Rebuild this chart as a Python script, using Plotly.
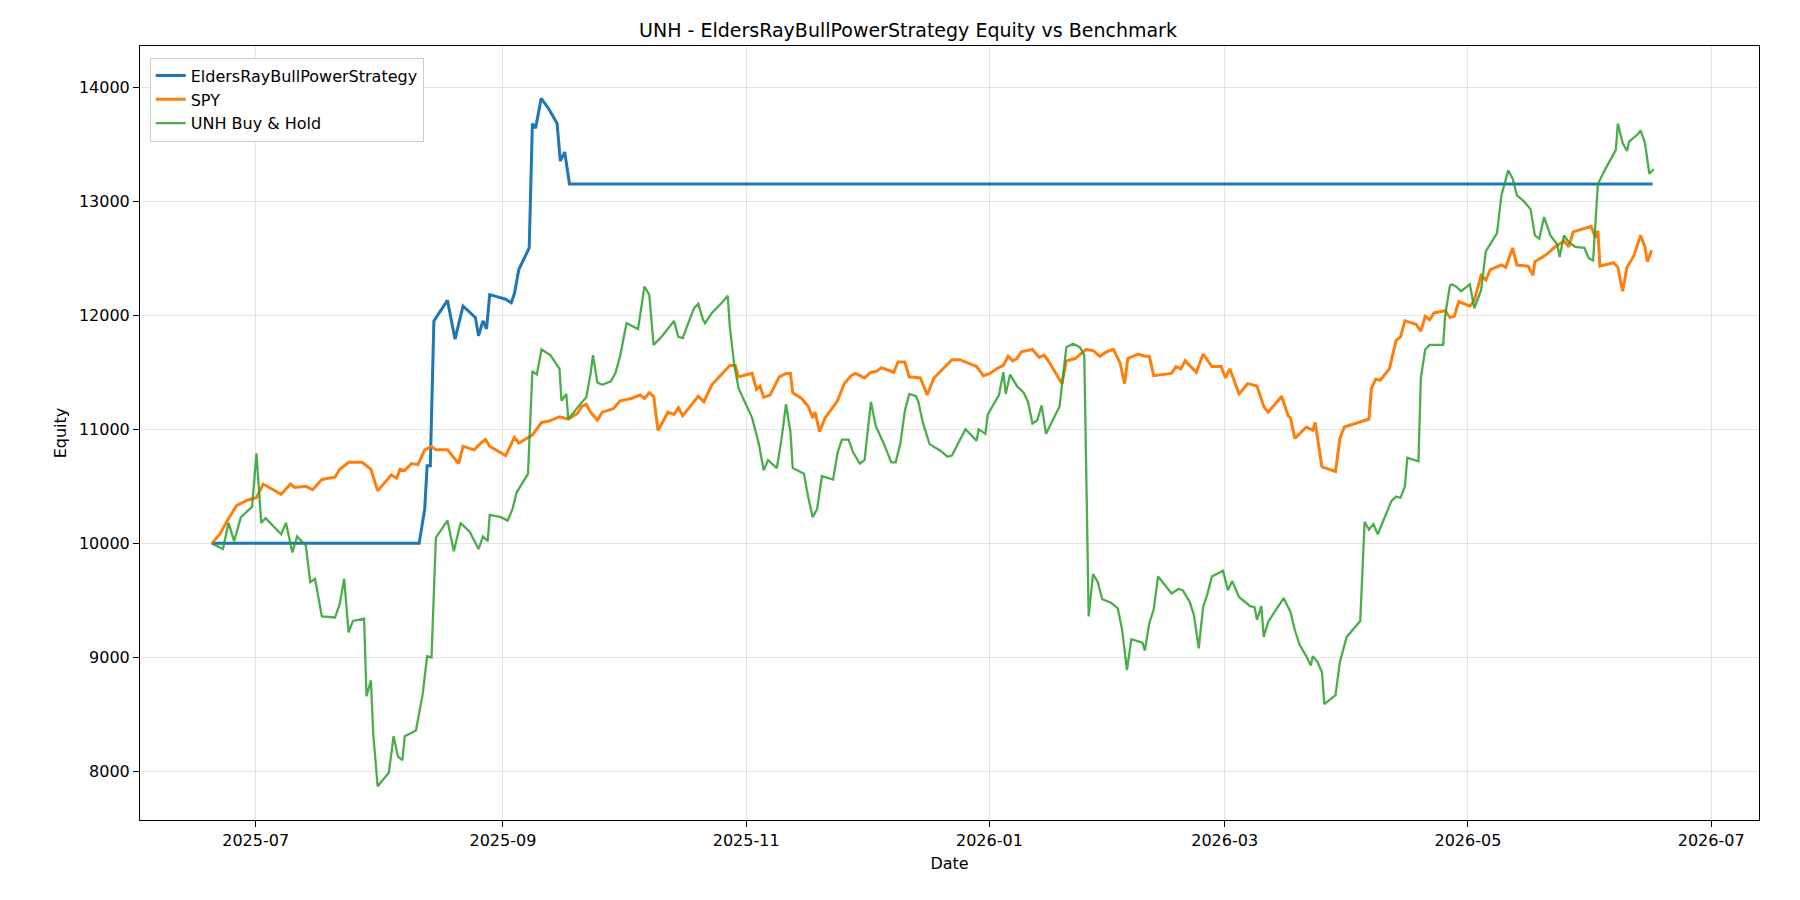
import pandas as pd
import plotly.graph_objects as go

START = "2025-06-20"

strat_days = [0, 52.0, 53.4, 54.0, 54.8, 55.7, 59.1, 61.0, 63.0, 66.1, 66.9, 68.0, 68.9, 69.7, 73.7, 75.1, 75.9, 77.0, 79.6, 80.4, 81.2, 82.6, 84.3, 86.6, 87.4, 88.5, 89.7, 361.3]
strat_vals = [10000, 10000, 10300, 10680, 10680, 11950, 12130, 11790, 12080, 11980, 11820, 11950, 11880, 12180, 12140, 12110, 12190, 12400, 12590, 13680, 13640, 13900, 13820, 13680, 13350, 13430, 13150, 13150]

spy_days = [0, 2.0, 3.9, 6.2, 9.0, 11.2, 12.9, 17.4, 19.7, 20.8, 23.6, 25.3, 27.6, 30.9, 32.1, 34.3, 37.7, 39.9, 41.6, 45.0, 46.4, 47.2, 48.4, 50.1, 51.7, 53.4, 55.1, 56.2, 59.1, 61.9, 63.0, 65.8, 67.5, 68.6, 69.7, 73.7, 75.9, 77.0, 80.4, 82.7, 84.4, 87.2, 89.4, 91.7, 92.8, 93.9, 95.0, 96.7, 97.9, 100.7, 102.4, 105.2, 107.4, 108.5, 109.7, 110.8, 111.9, 114.4, 115.9, 117.0, 118.1, 120.4, 122.0, 123.4, 125.4, 129.9, 131.3, 132.1, 135.5, 136.6, 137.5, 138.4, 140.0, 142.3, 144.0, 145.1, 145.7, 147.9, 149.6, 150.7, 151.3, 152.4, 153.8, 156.9, 158.6, 160.3, 161.4, 163.7, 165.3, 166.8, 167.9, 171.0, 172.1, 173.8, 174.9, 177.7, 179.4, 181.1, 183.3, 185.6, 187.6, 191.8, 193.5, 195.2, 196.8, 198.5, 199.7, 200.8, 201.9, 203.0, 205.8, 207.5, 208.7, 209.8, 213.2, 214.3, 216.5, 219.3, 221.0, 222.7, 224.4, 226.1, 227.8, 228.9, 229.7, 232.3, 234.0, 235.1, 236.2, 240.7, 241.8, 243.0, 244.1, 246.9, 248.6, 250.8, 253.1, 254.2, 255.3, 257.6, 259.8, 262.1, 263.8, 264.9, 268.3, 269.9, 270.5, 271.6, 274.5, 276.1, 276.7, 278.4, 281.8, 282.9, 284.0, 290.2, 290.8, 291.9, 293.0, 295.3, 297.0, 298.1, 299.2, 302.0, 303.2, 304.3, 305.4, 306.5, 309.3, 310.5, 311.6, 312.7, 315.5, 316.6, 318.3, 319.5, 320.6, 323.4, 324.5, 326.2, 327.3, 330.1, 331.3, 331.8, 334.6, 336.9, 339.1, 340.3, 341.4, 344.2, 345.9, 347.0, 347.6, 348.1, 351.5, 352.6, 353.8, 354.9, 356.6, 358.3, 359.4, 360.0, 361.1]
spy_vals = [10000, 10080, 10200, 10330, 10380, 10400, 10520, 10430, 10520, 10490, 10500, 10470, 10560, 10580, 10650, 10710, 10710, 10650, 10460, 10600, 10570, 10650, 10640, 10700, 10690, 10820, 10850, 10820, 10820, 10700, 10850, 10820, 10880, 10910, 10850, 10770, 10930, 10880, 10950, 11060, 11070, 11110, 11090, 11140, 11200, 11220, 11150, 11080, 11150, 11180, 11250, 11270, 11300, 11270, 11320, 11290, 10990, 11150, 11130, 11190, 11120, 11220, 11290, 11240, 11390, 11560, 11560, 11460, 11490, 11350, 11380, 11280, 11300, 11460, 11490, 11490, 11320, 11270, 11200, 11100, 11150, 10980, 11100, 11250, 11400, 11470, 11490, 11450, 11500, 11510, 11540, 11500, 11590, 11590, 11460, 11450, 11300, 11450, 11530, 11610, 11610, 11550, 11470, 11490, 11530, 11560, 11640, 11600, 11620, 11680, 11700, 11630, 11650, 11600, 11400, 11600, 11620, 11700, 11690, 11640, 11680, 11700, 11580, 11400, 11620, 11660, 11640, 11640, 11470, 11490, 11550, 11530, 11600, 11500, 11660, 11550, 11550, 11450, 11530, 11310, 11400, 11380, 11200, 11150, 11290, 11120, 11100, 10920, 11020, 10990, 11060, 10670, 10630, 10920, 11020, 11090, 11360, 11440, 11430, 11530, 11780, 11810, 11950, 11920, 11860, 11990, 11960, 12020, 12040, 11980, 11990, 12120, 12080, 12130, 12350, 12310, 12400, 12440, 12420, 12590, 12440, 12430, 12350, 12470, 12530, 12600, 12650, 12600, 12730, 12760, 12780, 12680, 12740, 12430, 12460, 12420, 12210, 12420, 12520, 12700, 12600, 12470, 12570]

unh_days = [0, 2.8, 4.2, 5.6, 7.3, 10.1, 11.2, 12.4, 13.5, 17.4, 18.6, 20.2, 21.4, 23.6, 24.7, 25.9, 27.6, 30.9, 32.1, 33.2, 34.3, 35.4, 38.2, 38.8, 39.9, 40.5, 41.6, 44.4, 45.6, 46.7, 47.8, 48.4, 51.2, 52.9, 54.0, 55.1, 56.2, 59.1, 60.7, 62.4, 64.7, 66.9, 68.0, 69.2, 69.7, 72.5, 74.2, 75.4, 76.5, 79.3, 80.4, 81.5, 82.7, 84.9, 87.2, 87.7, 88.9, 89.4, 91.7, 93.9, 95.0, 95.6, 96.7, 97.9, 100.1, 101.2, 102.4, 104.0, 106.9, 108.5, 109.7, 110.8, 113.0, 115.9, 117.0, 118.1, 119.8, 120.9, 122.0, 123.2, 123.7, 125.4, 128.2, 129.4, 129.9, 131.0, 132.1, 135.5, 137.2, 138.4, 139.5, 141.7, 142.9, 144.0, 145.1, 145.7, 148.5, 149.6, 150.7, 151.8, 153.0, 155.8, 156.9, 158.0, 159.7, 160.8, 162.5, 163.7, 165.3, 166.5, 168.7, 170.4, 171.5, 172.7, 173.8, 174.9, 176.6, 177.2, 178.3, 180.0, 182.8, 184.5, 185.6, 187.8, 189.0, 190.7, 191.8, 192.3, 194.0, 194.6, 197.4, 198.5, 199.1, 200.2, 201.9, 203.6, 204.7, 205.8, 207.0, 208.1, 209.2, 212.6, 214.3, 216.0, 217.7, 218.8, 219.9, 221.0, 222.2, 223.3, 225.5, 227.2, 228.3, 229.5, 230.6, 233.4, 234.0, 235.1, 236.2, 237.3, 240.7, 242.4, 243.5, 245.2, 246.3, 247.5, 248.6, 249.7, 250.8, 253.6, 254.8, 255.9, 257.6, 260.4, 261.5, 262.1, 263.2, 263.8, 264.9, 267.1, 268.8, 270.5, 271.6, 272.8, 274.5, 275.6, 276.1, 277.3, 278.4, 279.0, 281.8, 282.9, 284.6, 288.0, 289.1, 290.2, 291.3, 292.4, 294.2, 295.8, 297.0, 298.1, 299.2, 299.8, 302.6, 303.2, 304.3, 305.4, 308.8, 309.3, 310.5, 311.0, 312.1, 313.3, 315.5, 316.6, 318.3, 319.5, 322.3, 323.4, 325.1, 326.2, 327.3, 329.0, 330.7, 331.8, 332.9, 334.1, 335.7, 337.4, 338.0, 339.1, 340.3, 341.9, 344.2, 345.3, 346.4, 347.6, 349.3, 352.1, 352.6, 353.8, 354.9, 355.4, 357.7, 358.3, 359.4, 360.5, 361.6]
unh_vals = [10000, 9950, 10180, 10020, 10230, 10320, 10790, 10180, 10220, 10080, 10180, 9920, 10060, 9980, 9660, 9690, 9360, 9350, 9470, 9690, 9220, 9320, 9340, 8660, 8800, 8320, 7870, 7990, 8310, 8130, 8100, 8310, 8360, 8680, 9010, 9000, 10050, 10200, 9930, 10180, 10100, 9950, 10060, 10020, 10250, 10230, 10200, 10300, 10450, 10610, 11510, 11480, 11700, 11650, 11530, 11250, 11310, 11090, 11190, 11280, 11490, 11650, 11410, 11390, 11420, 11490, 11640, 11930, 11880, 12250, 12180, 11740, 11820, 11950, 11810, 11800, 11960, 12060, 12100, 11960, 11930, 12020, 12120, 12170, 11900, 11570, 11360, 11100, 10870, 10640, 10730, 10660, 10920, 11220, 10980, 10660, 10610, 10400, 10230, 10300, 10590, 10560, 10790, 10910, 10910, 10800, 10700, 10730, 11240, 11030, 10860, 10710, 10710, 10880, 11160, 11310, 11290, 11240, 11060, 10870, 10810, 10760, 10770, 10920, 11000, 10940, 10900, 11000, 10960, 11130, 11300, 11500, 11310, 11480, 11380, 11320, 11240, 11050, 11080, 11210, 10960, 11200, 11720, 11750, 11720, 11650, 9360, 9730, 9660, 9510, 9480, 9430, 9240, 8890, 9160, 9130, 9060, 9300, 9420, 9710, 9560, 9600, 9590, 9490, 9370, 9080, 9440, 9560, 9710, 9760, 9590, 9670, 9530, 9450, 9440, 9330, 9450, 9180, 9310, 9430, 9520, 9400, 9240, 9110, 9010, 8930, 9010, 8960, 8870, 8590, 8670, 8960, 9180, 9320, 10190, 10120, 10170, 10080, 10240, 10370, 10410, 10400, 10500, 10750, 10720, 11450, 11700, 11740, 11740, 12000, 12260, 12270, 12250, 12210, 12270, 12060, 12220, 12560, 12720, 13050, 13270, 13200, 13050, 13000, 12930, 12700, 12670, 12860, 12700, 12620, 12510, 12700, 12640, 12600, 12590, 12500, 12480, 13150, 13270, 13450, 13680, 13510, 13440, 13520, 13590, 13620, 13510, 13240, 13280]

def to_dates(days):
    return pd.Timestamp(START) + pd.to_timedelta(days, unit="D")

fig = go.Figure()
fig.add_trace(go.Scatter(x=to_dates(strat_days), y=strat_vals, mode="lines",
                         name="EldersRayBullPowerStrategy", line=dict(color="#1f77b4", width=3)))
fig.add_trace(go.Scatter(x=to_dates(spy_days), y=spy_vals, mode="lines",
                         name="SPY", line=dict(color="#ff7f0e", width=3)))
fig.add_trace(go.Scatter(x=to_dates(unh_days), y=unh_vals, mode="lines",
                         name="UNH Buy & Hold", line=dict(color="#2ca02c", width=2.3), opacity=0.85))

axis_common = dict(showline=True, linecolor="black", linewidth=1, mirror=True,
                   ticks="outside", tickcolor="black", ticklen=6,
                   showgrid=True, gridcolor="rgba(0,0,0,0.1)", zeroline=False,
                   tickfont=dict(size=16, color="black"))
fig.update_layout(
    width=1800, height=900, paper_bgcolor="white", plot_bgcolor="white",
    font=dict(family="DejaVu Sans", color="black"),
    title=dict(text="UNH - EldersRayBullPowerStrategy Equity vs Benchmark", x=0.5, xanchor="center",
               y=0.975, yanchor="middle", font=dict(size=19)),
    margin=dict(l=132, r=49, t=38, b=88),
    legend=dict(x=0.006, y=0.985, xanchor="left", yanchor="top", bgcolor="white",
                bordercolor="#cccccc", borderwidth=1, font=dict(size=16)),
    showlegend=True,
)
fig.update_xaxes(axis_common, title=dict(text="Date", font=dict(size=16), standoff=8),
                 range=[pd.Timestamp("2025-06-02"), pd.Timestamp("2026-07-13")],
                 tickformat="%Y-%m", dtick="M2", tick0="2025-07-01")
fig.update_yaxes(axis_common, title=dict(text="Equity", font=dict(size=16), standoff=8),
                 range=[7575, 14360], dtick=1000, tickformat="d")
fig.write_html("out.html")
